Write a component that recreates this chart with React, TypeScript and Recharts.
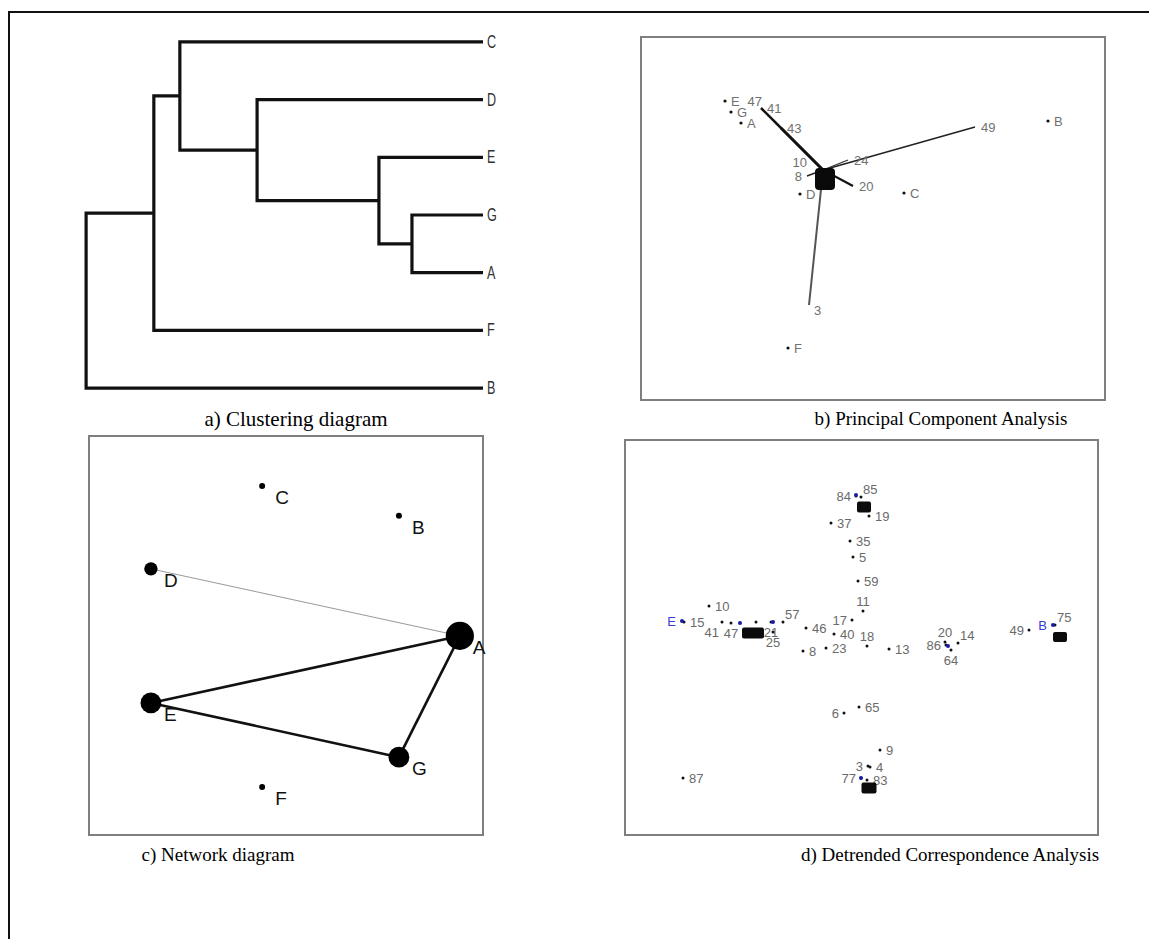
import React from "react";
import { ScatterChart, Scatter, XAxis, YAxis } from "recharts";

// a) Clustering – leaves top to bottom, merges with their dissimilarity heights
const LEAVES = ["C", "D", "E", "G", "A", "F", "B"];
const MERGE_LEFT = ["G", "E", "D", "C", "m4", "m5"];
const MERGE_RIGHT = ["A", "m1", "m2", "m3", "F", "B"];
const MERGE_HEIGHT = [0.172, 0.252, 0.547, 0.734, 0.797, 0.961];

// b) PCA – site scores and species vector tips
const PCA_SITES = ["E", "G", "A", "B", "C", "D", "F"];
const PCA_SITE_X = [-0.98, -0.92, -0.82, 2.25, 0.81, -0.23, -0.35];
const PCA_SITE_Y = [0.69, 0.58, 0.47, 0.49, -0.23, -0.24, -1.78];
const PCA_SPECIES = ["47", "41", "43", "49", "10", "8", "24", "20", "3"];
const PCA_SP_X = [-0.56, -0.62, -0.42, 1.52, -0.11, -0.16, 0.25, 0.3, -0.14];
const PCA_SP_Y = [0.69, 0.62, 0.42, 0.43, 0.08, -0.06, 0.1, -0.16, -1.35];
const PCA_CLUSTER = [{ x: 0.02, y: -0.09 }];

// c) Network – node layout and edges
const NET_NODES = ["C", "B", "D", "A", "E", "G", "F"];
const NET_X = [0.438, 0.786, 0.155, 0.941, 0.155, 0.786, 0.438];
const NET_Y = [0.875, 0.8, 0.667, 0.499, 0.331, 0.195, 0.12];
const NET_EDGE_FROM = ["D", "E", "E", "A"];
const NET_EDGE_TO = ["A", "A", "G", "G"];
const NET_EDGE_WEIGHT = [1, 3, 3, 3];

// d) DCA – sites (blue) and species (black)
const DCA_SITES = ["E", "A", "G", "D", "F", "C", "B"];
const DCA_SITE_X = [0.57, 1.15, 1.48, 2.31, 2.36, 3.23, 4.28];
const DCA_SITE_Y = [2.14, 2.12, 2.13, 3.4, 0.57, 1.89, 2.1];
const DCA_SITE_LABELLED = ["E", "B"];
const DCA_SPECIES = [
  "10", "15", "41", "47", "39", "21", "25", "57", "46", "8", "23", "17", "11",
  "40", "18", "13", "20", "86", "14", "64", "49", "75", "84", "85", "19", "37",
  "35", "5", "59", "6", "65", "9", "3", "4", "77", "83", "87",
];
const DCA_SP_X = [
  0.84, 0.59, 0.97, 1.06, 1.31, 1.46, 1.48, 1.58, 1.81, 1.78, 2.01, 2.27, 2.38,
  2.09, 2.42, 2.64, 3.2, 3.21, 3.33, 3.26, 4.04, 4.3, 2.31, 2.36, 2.44, 2.06,
  2.25, 2.28, 2.33, 2.19, 2.34, 2.55, 2.43, 2.45, 2.36, 2.42, 0.58,
];
const DCA_SP_Y = [
  2.29, 2.13, 2.13, 2.12, 2.13, 2.13, 2.03, 2.13, 2.07, 1.84, 1.87, 2.15, 2.24,
  2.01, 1.89, 1.86, 1.93, 1.9, 1.92, 1.85, 2.05, 2.1, 3.39, 3.38, 3.19, 3.12,
  2.94, 2.78, 2.54, 1.22, 1.28, 0.85, 0.69, 0.68, 0.57, 0.55, 0.57,
];
const DCA_BLOBS_X = [1.28, 2.39, 4.35, 2.44];
const DCA_BLOBS_Y = [2.02, 3.28, 1.98, 0.47];

// styles
const SERIF = '"Liberation Serif", "Times New Roman", serif';
const SANS = '"Liberation Sans", Arial, sans-serif';

const PCA_LINE: Record<string, { w: number; c: string }> = {
  "41": { w: 2.6, c: "#111" },
  "43": { w: 2.6, c: "#111" },
  "49": { w: 1.6, c: "#222" },
  "24": { w: 1.2, c: "#333" },
  "20": { w: 2, c: "#111" },
  "8": { w: 1.5, c: "#222" },
  "3": { w: 2, c: "#555" },
};
const PCA_LABEL_POS: Record<string, string> = {
  "47": "l", "10": "l", "8": "l", "3": "br",
};
const DCA_LABEL_POS: Record<string, string> = {
  "41": "bl", "47": "b", "39": "b", "21": "b", "25": "b", "57": "tr",
  "17": "l", "11": "t", "18": "t", "20": "t", "86": "l", "14": "tr", "64": "b",
  "49": "l", "75": "tr", "84": "l", "85": "tr", "6": "l", "3": "l", "77": "l",
};
const DCA_BLOB_SIZE = [[22, 11], [14, 11], [14, 10], [15, 11]];

function place(kind: string, cx: number, cy: number) {
  switch (kind) {
    case "l":
      return { x: cx - 5, y: cy + 4.5, a: "end" };
    case "t":
      return { x: cx, y: cy - 5, a: "middle" };
    case "b":
      return { x: cx, y: cy + 15, a: "middle" };
    case "bl":
      return { x: cx - 3, y: cy + 15, a: "end" };
    case "tr":
      return { x: cx + 2, y: cy - 3, a: "start" };
    case "br":
      return { x: cx + 5, y: cy + 10, a: "start" };
    default:
      return { x: cx + 6, y: cy + 4.5, a: "start" };
  }
}

const noShape = () => <g />;
const NOMARGIN = { top: 0, right: 0, bottom: 0, left: 0 };

// dendrogram geometry from the merge table
const nodePos: Record<string, { x: number; y: number }> = {};
LEAVES.forEach((l, i) => (nodePos[l] = { x: 0, y: i }));
MERGE_HEIGHT.forEach((h, i) => {
  const a = nodePos[MERGE_LEFT[i]];
  const b = nodePos[MERGE_RIGHT[i]];
  nodePos[`m${i + 1}`] = { x: h, y: (a.y + b.y) / 2 };
});
const dendroLinks = MERGE_HEIGHT.map((h, i) => {
  const a = nodePos[MERGE_LEFT[i]];
  const b = nodePos[MERGE_RIGHT[i]];
  return [
    { x: a.x, y: a.y },
    { x: h, y: a.y },
    { x: h, y: b.y },
    { x: b.x, y: b.y },
  ];
});

// narrow leaf labels, like the condensed face of the original
const LeafTick = (props: any) => {
  const { x, y, payload } = props;
  return (
    <text
      x={x}
      y={y}
      dy={6}
      fontSize={18}
      fontFamily={SANS}
      fill="#333"
      transform={`translate(${x},0) scale(0.7,1) translate(${-x},0)`}
    >
      {LEAVES[payload.value] ?? ""}
    </text>
  );
};

function ClusterPanel() {
  return (
    <div style={{ position: "absolute", left: 70, top: 13 }}>
      <ScatterChart width={435} height={404} margin={NOMARGIN}>
        <XAxis type="number" dataKey="x" domain={[0, 1]} reversed hide allowDataOverflow />
        <YAxis
          type="number"
          dataKey="y"
          orientation="right"
          width={22}
          domain={[-0.5, 6.5]}
          reversed
          allowDataOverflow
          ticks={[0, 1, 2, 3, 4, 5, 6]}
          axisLine={false}
          tickLine={false}
          tickSize={4}
          tickMargin={0}
          tick={LeafTick}
        />
        {dendroLinks.map((pts, i) => (
          <Scatter
            key={i}
            data={pts}
            line={{ stroke: "#111", strokeWidth: 3.2 }}
            shape={noShape}
            isAnimationActive={false}
          />
        ))}
      </ScatterChart>
    </div>
  );
}

function PcaPanel() {
  const sites = PCA_SITES.map((s, i) => ({ x: PCA_SITE_X[i], y: PCA_SITE_Y[i], label: s }));
  const tips = PCA_SPECIES.map((s, i) => ({ x: PCA_SP_X[i], y: PCA_SP_Y[i], label: s }));
  const labelShape = (p: any) => {
    const pos = place(PCA_LABEL_POS[p.payload.label] || "r", p.cx, p.cy);
    return (
      <text x={pos.x} y={pos.y} textAnchor={pos.a as any} fontSize={13} fontFamily={SANS} fill="#707070">
        {p.payload.label}
      </text>
    );
  };
  return (
    <div style={{ position: "absolute", left: 641, top: 37 }}>
      <ScatterChart width={464} height={363} margin={NOMARGIN}>
        <XAxis type="number" dataKey="x" domain={[-1.82, 2.82]} hide allowDataOverflow />
        <YAxis type="number" dataKey="y" domain={[-2.3, 1.33]} hide allowDataOverflow />
        {tips
          .filter((t) => PCA_LINE[t.label])
          .map((t) => (
            <Scatter
              key={t.label}
              data={[{ x: 0, y: 0 }, { x: t.x, y: t.y }]}
              line={{ stroke: PCA_LINE[t.label].c, strokeWidth: PCA_LINE[t.label].w }}
              shape={noShape}
              isAnimationActive={false}
            />
          ))}
        <Scatter
          data={PCA_CLUSTER}
          isAnimationActive={false}
          shape={(p: any) => <rect x={p.cx - 10} y={p.cy - 11} width={20} height={22} rx={4} fill="#0a0a0a" />}
        />
        <Scatter data={tips} isAnimationActive={false} shape={labelShape} />
        <Scatter
          data={sites}
          isAnimationActive={false}
          shape={(p: any) => (
            <g>
              <circle cx={p.cx} cy={p.cy} r={1.6} fill="#111" />
              {labelShape(p)}
            </g>
          )}
        />
      </ScatterChart>
    </div>
  );
}

function NetworkPanel() {
  const idx = (n: string) => NET_NODES.indexOf(n);
  const degree = NET_NODES.map(
    (n) => NET_EDGE_FROM.filter((f) => f === n).length + NET_EDGE_TO.filter((t) => t === n).length
  );
  const nodes = NET_NODES.map((n, i) => ({ x: NET_X[i], y: NET_Y[i], label: n, deg: degree[i] }));
  // plot area runs a little past the frame so the "A" label is not clipped
  return (
    <div style={{ position: "absolute", left: 90, top: 436 }}>
      <ScatterChart width={417} height={399} margin={NOMARGIN}>
        <XAxis type="number" dataKey="x" domain={[0, 1.061]} hide allowDataOverflow />
        <YAxis type="number" dataKey="y" domain={[0, 1]} hide allowDataOverflow />
        {NET_EDGE_FROM.map((f, i) => {
          const a = idx(f);
          const b = idx(NET_EDGE_TO[i]);
          const heavy = NET_EDGE_WEIGHT[i] > 1;
          return (
            <Scatter
              key={i}
              data={[{ x: NET_X[a], y: NET_Y[a] }, { x: NET_X[b], y: NET_Y[b] }]}
              line={{ stroke: heavy ? "#111" : "#999", strokeWidth: heavy ? 2.6 : 1 }}
              shape={noShape}
              isAnimationActive={false}
            />
          );
        })}
        <Scatter
          data={nodes}
          isAnimationActive={false}
          shape={(p: any) => (
            <g>
              <circle cx={p.cx} cy={p.cy} r={3 + 3.7 * p.payload.deg} fill="#000" />
              <text x={p.cx + 13} y={p.cy + 18} fontSize={19} fontFamily={SANS} fill="#111">
                {p.payload.label}
              </text>
            </g>
          )}
        />
      </ScatterChart>
    </div>
  );
}

function DcaPanel() {
  const species = DCA_SPECIES.map((s, i) => ({ x: DCA_SP_X[i], y: DCA_SP_Y[i], label: s }));
  const sites = DCA_SITES.map((s, i) => ({ x: DCA_SITE_X[i], y: DCA_SITE_Y[i], label: s }));
  const blobs = DCA_BLOBS_X.map((x, i) => ({ x, y: DCA_BLOBS_Y[i], i }));
  return (
    <div style={{ position: "absolute", left: 625, top: 440 }}>
      <ScatterChart width={473} height={395} margin={NOMARGIN}>
        <XAxis type="number" dataKey="x" domain={[0, 4.73]} hide allowDataOverflow />
        <YAxis type="number" dataKey="y" domain={[0, 3.95]} hide allowDataOverflow />
        <Scatter
          data={species}
          isAnimationActive={false}
          shape={(p: any) => {
            const pos = place(DCA_LABEL_POS[p.payload.label] || "r", p.cx, p.cy);
            return (
              <g>
                <circle cx={p.cx} cy={p.cy} r={1.5} fill="#111" />
                <text x={pos.x} y={pos.y} textAnchor={pos.a as any} fontSize={13} fontFamily={SANS} fill="#6a6a6a">
                  {p.payload.label}
                </text>
              </g>
            );
          }}
        />
        <Scatter
          data={blobs}
          isAnimationActive={false}
          shape={(p: any) => {
            const [w, h] = DCA_BLOB_SIZE[p.payload.i];
            return <rect x={p.cx - w / 2} y={p.cy - h / 2} width={w} height={h} rx={2} fill="#0c0c0c" />;
          }}
        />
        <Scatter
          data={sites}
          isAnimationActive={false}
          shape={(p: any) => (
            <g>
              <circle cx={p.cx} cy={p.cy} r={2} fill="#1a1aa8" />
              {DCA_SITE_LABELLED.includes(p.payload.label) && (
                <text x={p.cx - 6} y={p.cy + 5} textAnchor="end" fontSize={13} fontFamily={SANS} fill="#3a3ad8">
                  {p.payload.label}
                </text>
              )}
            </g>
          )}
        />
      </ScatterChart>
    </div>
  );
}

function Box({ left, top, width, height }: { left: number; top: number; width: number; height: number }) {
  return (
    <div
      style={{
        position: "absolute",
        left,
        top,
        width,
        height,
        boxSizing: "border-box",
        border: "2px solid #7f7f7f",
      }}
    />
  );
}

function Caption({ center, top, text, size = 19 }: { center: number; top: number; text: string; size?: number }) {
  return (
    <div
      style={{
        position: "absolute",
        left: center,
        top,
        transform: "translateX(-50%)",
        fontFamily: SERIF,
        fontSize: size,
        lineHeight: "20px",
        color: "#000",
        whiteSpace: "nowrap",
      }}
    >
      {text}
    </div>
  );
}

export default function App() {
  return (
    <div
      style={{
        position: "absolute",
        left: 0,
        top: 0,
        width: 1149,
        height: 939,
        background: "#fff",
        overflow: "hidden",
      }}
    >
      <div
        style={{
          position: "absolute",
          left: 8,
          top: 11,
          width: 1200,
          height: 1000,
          borderTop: "2px solid #111",
          borderLeft: "2px solid #111",
        }}
      />
      <ClusterPanel />
      <Caption center={296} top={409} size={21} text="a) Clustering diagram" />

      <Box left={640} top={36} width={466} height={365} />
      <PcaPanel />
      <Caption center={941} top={409} text="b) Principal Component Analysis" />

      <Box left={88} top={435} width={396} height={401} />
      <NetworkPanel />
      <Caption center={218} top={845} text="c) Network diagram" />

      <Box left={624} top={439} width={475} height={397} />
      <DcaPanel />
      <Caption center={950} top={845} text="d) Detrended Correspondence Analysis" />
    </div>
  );
}
